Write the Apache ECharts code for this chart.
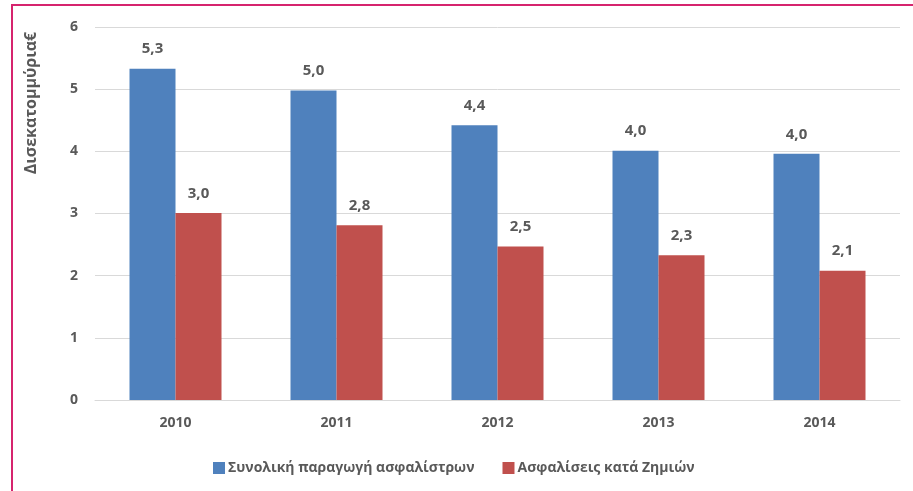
<!DOCTYPE html>
<html>
<head>
<meta charset="utf-8">
<script src="https://cdn.jsdelivr.net/npm/echarts@6/dist/echarts.min.js"></script>
<style>
  html, body { margin: 0; padding: 0; background: #fff; }
  #chart { width: 913px; height: 491px; }
  #frame {
    position: absolute; left: 11px; top: 4px; width: 902px; height: 487px;
    border-left: 2px solid #D6246E; border-top: 2px solid #D6246E;
    box-sizing: border-box; pointer-events: none;
  }
</style>
</head>
<body>
<div id="chart"></div>
<div id="frame"></div>
<script>
const years = ['2010', '2011', '2012', '2013', '2014'];
const totalPremiums = [5.33, 4.98, 4.42, 4.01, 3.96];
const nonLife = [3.01, 2.81, 2.47, 2.33, 2.08];
const seriesNames = ['Συνολική παραγωγή ασφαλίστρων', 'Ασφαλίσεις κατά Ζημιών'];

const grey = '#595959';
const font = '"Open Sans", "Noto Sans", sans-serif';

let chart = echarts.init(document.getElementById('chart'));
let labelOpt = {
    show: true,
    position: 'top',
    distance: 12,
    color: grey,
    fontFamily: font,
    fontWeight: 'bold',
    fontSize: 15,
    formatter: p => p.value.toFixed(1).replace('.', ',')
};
chart.setOption({
    animation: false,
    textStyle: { fontFamily: font },
    grid: { left: 95, right: 13, top: 27, bottom: 91 },
    legend: {
        left: 208,
        top: 456,
        itemWidth: 12,
        itemHeight: 12,
        itemGap: 28,
        icon: 'rect',
        textStyle: { color: grey, fontSize: 14, fontWeight: 'bold', fontFamily: font, padding: [0, 0, 0, -2] }
    },
    graphic: [{
        type: 'text',
        x: 31,
        y: 103,
        rotation: Math.PI / 2,
        style: {
            text: 'Δισεκατομμύρια€',
            fill: grey,
            font: 'bold 16px ' + font,
            textAlign: 'center',
            textVerticalAlign: 'middle'
        }
    }],
    xAxis: {
        type: 'category',
        data: years,
        axisLine: { lineStyle: { color: '#D9D9D9' } },
        axisTick: { show: false },
        axisLabel: { color: grey, fontSize: 14, fontWeight: 'bold', margin: 16 }
    },
    yAxis: {
        type: 'value',
        min: 0,
        max: 6,
        interval: 1,
        axisLabel: { color: grey, fontSize: 14, fontWeight: 'bold', margin: 17 },
        splitLine: { lineStyle: { color: '#D9D9D9' } }
    },
    series: [
        {
            name: seriesNames[0],
            type: 'bar',
            data: totalPremiums,
            barWidth: 46,
            barGap: '0%',
            itemStyle: { color: '#4F81BD' },
            label: labelOpt
        },
        {
            name: seriesNames[1],
            type: 'bar',
            data: nonLife,
            barWidth: 46,
            itemStyle: { color: '#C0504D' },
            label: labelOpt
        }
    ]
});
</script>
</body>
</html>
